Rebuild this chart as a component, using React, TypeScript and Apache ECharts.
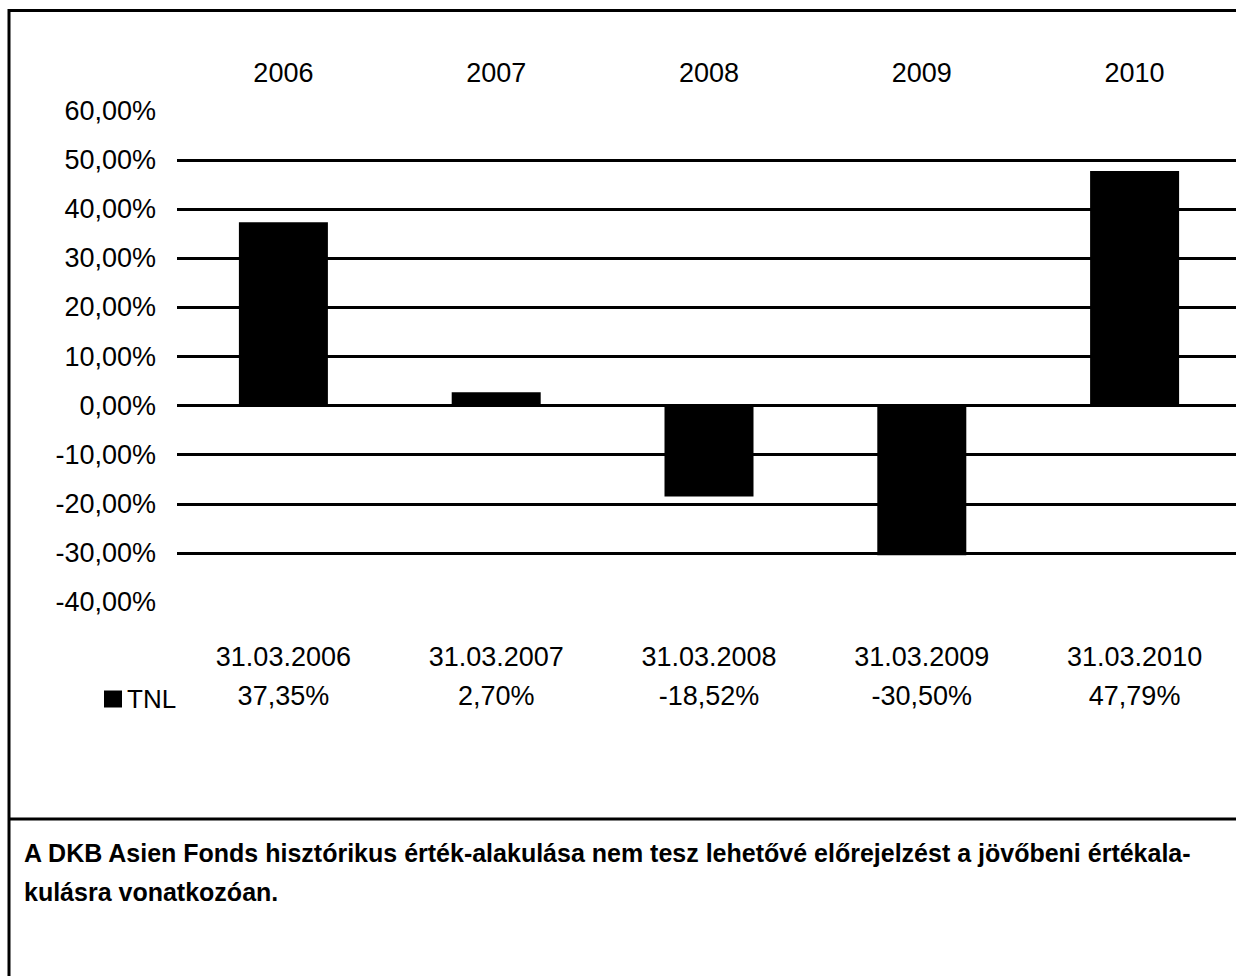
import React, { useEffect, useRef } from "react";
import * as echarts from "echarts";

// Fund performance per reporting year
const years = ["2006", "2007", "2008", "2009", "2010"];
const reportDates = ["31.03.2006", "31.03.2007", "31.03.2008", "31.03.2009", "31.03.2010"];
const tnlValues = [37.35, 2.7, -18.52, -30.5, 47.79];
const seriesName = "TNL";
const footnoteLines = [
  "A DKB Asien Fonds hisztórikus érték-alakulása nem tesz lehetővé előrejelzést a jövőbeni értékala-",
  "kulásra vonatkozóan.",
];

const fmtPct = (v: number) => v.toFixed(2).replace(".", ",") + "%";

const FONT = "'Liberation Sans', Arial, sans-serif";

export default function App() {
  const ref = useRef<HTMLDivElement>(null);

  useEffect(() => {
    if (!ref.current) return;
    const chart = echarts.init(ref.current, null, { renderer: "svg" });
    chart.setOption({
      animation: false,
      backgroundColor: "#ffffff",
      textStyle: { fontFamily: FONT, color: "#000" },
      legend: {
        data: [{ name: seriesName, icon: "rect" }],
        left: 99,
        top: 681,
        itemWidth: 18,
        itemHeight: 17,
        itemGap: 5,
        textStyle: { fontFamily: FONT, fontSize: 26, color: "#000" },
        selectedMode: false,
      },
      grid: { left: 177, top: 111, width: 1064, height: 491 },
      xAxis: [
        {
          type: "category",
          data: years,
          position: "top",
          axisLine: { show: false },
          axisTick: { show: false },
          axisLabel: { fontFamily: FONT, fontSize: 27, color: "#000", margin: 25 },
        },
        {
          type: "category",
          data: reportDates,
          position: "bottom",
          axisLine: { show: false },
          axisTick: { show: false },
          axisLabel: {
            fontFamily: FONT,
            fontSize: 27,
            color: "#000",
            margin: 35,
            lineHeight: 39,
            formatter: (v: string, i: number) => `${v}\n${fmtPct(tnlValues[i])}`,
          },
        },
      ],
      yAxis: {
        type: "value",
        min: -40,
        max: 60,
        interval: 10,
        axisLine: { show: false },
        axisTick: { show: false },
        axisLabel: {
          fontFamily: FONT,
          fontSize: 27,
          color: "#000",
          margin: 21,
          formatter: (v: number) => fmtPct(v),
        },
        splitLine: {
          show: true,
          showMinLine: false,
          showMaxLine: false,
          lineStyle: { color: "#000", width: 3 },
        },
      },
      series: [
        {
          name: seriesName,
          type: "bar",
          xAxisIndex: 0,
          data: tnlValues,
          barWidth: 89,
          itemStyle: { color: "#000" },
        },
      ],
      graphic: [
        { type: "line", shape: { x1: 8, y1: 10.5, x2: 1260, y2: 10.5 }, style: { stroke: "#000", lineWidth: 3 } },
        { type: "line", shape: { x1: 9, y1: 9, x2: 9, y2: 980 }, style: { stroke: "#000", lineWidth: 3 } },
        { type: "line", shape: { x1: 8, y1: 819, x2: 1260, y2: 819 }, style: { stroke: "#000", lineWidth: 3 } },
        ...footnoteLines.map((t, i) => ({
          type: "text",
          x: 24,
          y: 853 + i * 39,
          style: {
            text: t,
            fontFamily: FONT,
            fontSize: 25,
            fontWeight: "bold",
            fill: "#000",
            verticalAlign: "middle",
          },
        })),
      ],
    });
    return () => chart.dispose();
  }, []);

  return (
    <div style={{ position: "absolute", left: 0, top: 0, width: 1236, height: 976, overflow: "hidden", background: "#fff" }}>
      <div ref={ref} style={{ width: 1260, height: 976 }} />
    </div>
  );
}
